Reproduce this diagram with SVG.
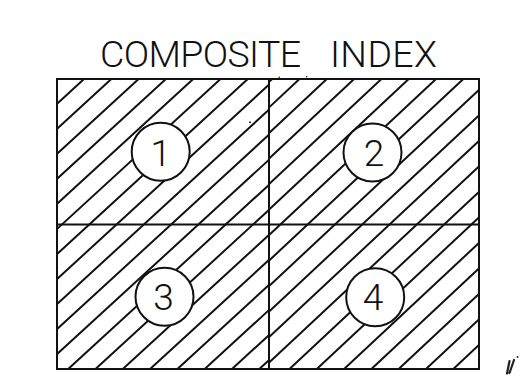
<svg xmlns="http://www.w3.org/2000/svg" width="523" height="381" viewBox="0 0 523 381">
  <style>
    .bg { fill: #ffffff; }
    .hatch { stroke: #111; stroke-width: 2; fill: none; stroke-linecap: butt; }
    .frame { stroke: #111; stroke-width: 2; fill: none; }
    .bubble { fill: #ffffff; stroke: #111; stroke-width: 2; }
    .num { font-family: Roboto, "Liberation Sans", sans-serif; font-weight: 300; font-size: 37px; fill: #111; text-anchor: middle; }
    .title { font-family: Roboto, "Liberation Sans", sans-serif; font-weight: 300; font-size: 37.5px; fill: #111; }
    .speck { fill: #222; }
    .mark { stroke: #222; stroke-width: 2.2; fill: none; stroke-linecap: round; }
  </style>
  <defs>
    <clipPath id="clipL"><rect x="57" y="79" width="212" height="290"/></clipPath>
    <clipPath id="clipR"><rect x="269" y="79" width="210" height="290"/></clipPath>
  </defs>
  <rect class="bg" x="0" y="0" width="523" height="381"/>

  <g id="title">
    <text class="title" x="100" y="67"><tspan textLength="201" lengthAdjust="spacing">COMPOSITE</tspan><tspan x="330" textLength="107" lengthAdjust="spacing">INDEX</tspan></text>
  </g>

  <g id="hatching">
    <g clip-path="url(#clipL)" class="hatch">
      <path d="M84.0 79 L-232.1 369 M111.3 79 L-204.8 369 M138.6 79 L-177.5 369 M165.9 79 L-150.2 369 M193.2 79 L-122.9 369 M220.5 79 L-95.6 369 M247.8 79 L-68.3 369 M275.1 79 L-41.0 369 M302.4 79 L-13.7 369 M329.7 79 L13.6 369 M357.0 79 L40.9 369 M384.3 79 L68.2 369 M411.6 79 L95.5 369 M438.9 79 L122.8 369 M466.2 79 L150.1 369 M493.5 79 L177.4 369 M520.8 79 L204.7 369 M548.1 79 L232.0 369 M575.4 79 L259.3 369"/>
    </g>
    <g clip-path="url(#clipR)" class="hatch">
      <path d="M272.2 79 L-38.1 369 M299.5 79 L-10.8 369 M326.8 79 L16.5 369 M354.1 79 L43.8 369 M381.4 79 L71.1 369 M408.7 79 L98.4 369 M436.0 79 L125.7 369 M463.3 79 L153.0 369 M490.6 79 L180.3 369 M517.9 79 L207.6 369 M545.2 79 L234.9 369 M572.5 79 L262.2 369 M599.8 79 L289.5 369 M627.1 79 L316.8 369 M654.4 79 L344.1 369 M681.7 79 L371.4 369 M709.0 79 L398.7 369 M736.3 79 L426.0 369 M763.6 79 L453.3 369"/>
    </g>
  </g>

  <g id="grid" class="frame">
    <rect x="57" y="79" width="422" height="290"/>
    <line x1="269" y1="79" x2="269" y2="369"/>
    <line x1="57" y1="224.5" x2="479" y2="224.5"/>
  </g>

  <g id="connectors"></g>

  <g id="node-1">
    <circle class="bubble" cx="160.7" cy="151.7" r="29"/>
    <text class="num" x="160.7" y="165.5">1</text>
  </g>
  <g id="node-2">
    <circle class="bubble" cx="372.5" cy="152.5" r="29"/>
    <text class="num" x="374" y="165.5">2</text>
  </g>
  <g id="node-3">
    <circle class="bubble" cx="164.5" cy="296.7" r="29"/>
    <text class="num" x="163.5" y="309.5">3</text>
  </g>
  <g id="node-4">
    <circle class="bubble" cx="375.2" cy="297.2" r="29"/>
    <text class="num" x="373" y="310">4</text>
  </g>

  <g id="specks">
    <circle class="speck" cx="250" cy="122.3" r="1"/>
    <circle class="speck" cx="279.3" cy="77.3" r="0.8"/>
    <circle class="speck" cx="306.7" cy="76.7" r="0.8"/>
  </g>
  <g id="corner-mark">
    <path class="mark" d="M509.5 361 L507 373.5 M514 360 L509.5 373"/>
    <circle class="speck" cx="517.5" cy="357" r="1"/>
  </g>
</svg>
